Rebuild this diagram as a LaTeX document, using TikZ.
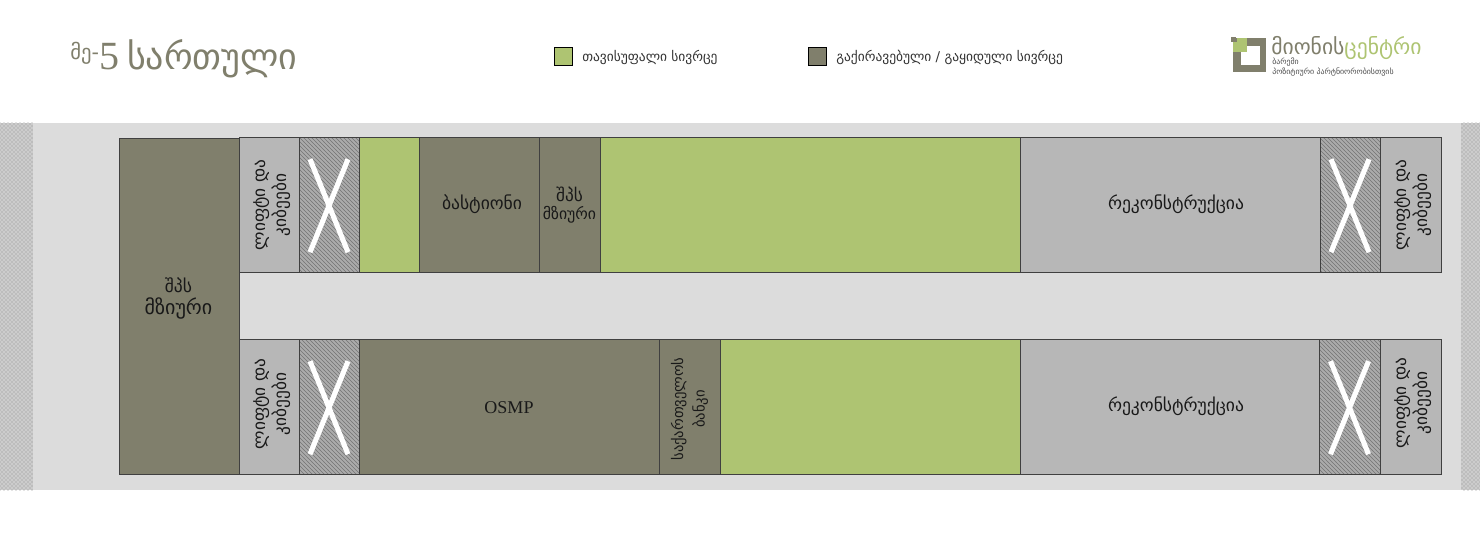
\documentclass[tikz,border=0pt]{standalone}
\usepackage{fontspec}
\setmainfont{DejaVu Sans}
\newfontfamily\latinfont{Liberation Serif}
\usepackage{xcolor}
\usepackage{tikz}
\usetikzlibrary{calc}
\usetikzlibrary{patterns}
\definecolor{olivebox}{HTML}{807F6C}
\definecolor{greenbox}{HTML}{AEC472}
\definecolor{graybox}{HTML}{B7B7B7}
\definecolor{hatchbox}{HTML}{ABABAB}
\definecolor{bandgray}{HTML}{DCDCDC}
\definecolor{edgegray}{HTML}{404040}
\tikzset{x=0.75pt, y=-0.75pt}
\tikzstyle{cell} = [draw=edgegray, line width=0.75pt, inner sep=0, align=center, font=\fontsize{13}{16}\selectfont, text=black!90]
\tikzstyle{rented} = [cell, fill=olivebox]
\tikzstyle{free} = [cell, fill=greenbox]
\tikzstyle{rebuilt} = [cell, fill=graybox]
\tikzstyle{blocked} = [cell, preaction={fill=hatchbox}, pattern=north west lines, pattern color=black!55]
\tikzstyle{celltext} = [inner sep=0, align=center, font=\fontsize{13.2}{16}\selectfont, text=black!90]
\tikzstyle{sidetext} = [celltext, rotate=90, font=\fontsize{13}{16}\selectfont]
\tikzstyle{cross} = [draw=white, line width=3.8pt]
\tikzstyle{legendbox} = [draw=black, line width=0.75pt, minimum width=14pt, minimum height=14pt, inner sep=0]
\tikzstyle{legendtext} = [anchor=west, inner sep=0, font=\fontsize{10.1}{12}\selectfont, text=black!80]
\newcommand{\xmark}[1]{
\draw [cross] ($(#1.center)+(-19,-46)$) to ($(#1.center)+(19,47)$);
\draw [cross] ($(#1.center)+(19,-46)$) to ($(#1.center)+(-19,47)$);
}
\begin{document}
\begin{tikzpicture}
\useasboundingbox (0,0) rectangle (1480,534);
\fill [white] (0,0) rectangle (1480,534);
% band and side strips
\fill [bandgray] (0,123) rectangle (1480,490);
\fill [black!20] (0,123) rectangle (33,490);
\fill [black!20] (1461,123) rectangle (1480,490);
\fill [pattern=crosshatch dots, pattern color=black!45] (0,123) rectangle (33,490);
\fill [pattern=crosshatch dots, pattern color=black!45] (1461,123) rectangle (1480,490);
% title and legend
\node [anchor=base west, inner sep=0, text=olivebox, font=\fontsize{27}{30}\selectfont] (title) at (70,70) {{\fontsize{15.5}{18}\selectfont\raisebox{8pt}{მე-}}{\latinfont\fontsize{30}{30}\selectfont 5}\hspace{6pt}სართული};
\node [legendbox, fill=greenbox] (freekey) at (563.5,56.5) {};
\node [legendtext] (freetext) at (582,57) {თავისუფალი სივრცე};
\node [legendbox, fill=olivebox] (rentkey) at (817.5,56.5) {};
\node [legendtext] (renttext) at (836,57) {გაქირავებული / გაყიდული სივრცე};
% logo
\fill [olivebox] (1233,38) rectangle (1266,72);
\fill [white] (1241,46) rectangle (1260,65);
\fill [greenbox] (1233,42) rectangle (1247,52);
\fill [greenbox] (1237,38) rectangle (1247,42);
\fill [olivebox] (1231,37) rectangle (1236,42);
\node [anchor=west, inner sep=0, text=olivebox, font=\fontsize{16.2}{18}\selectfont] (logo) at (1271,48) {მიონის{\color{greenbox}ცენტრი}};
\node [anchor=north west, inner sep=0, text=black!70, align=left, font=\fontsize{5.9}{5.8}\selectfont] (logosub) at (1272,58) {ბარემი\\პოზიტიური პარტნიორობისთვის};
% left block
\node [rented, minimum width=90pt, minimum height=252pt] (mzeuri) at (179,306.7) {};
\node [celltext] (mzeuritext) at (178.5,298.5) {შპს\\{\fontsize{15}{16}\selectfont მზიური}};
% top row
\node [rebuilt, minimum width=45pt, minimum height=101.25pt] (lift1) at (269,205.2) {};
\node [sidetext] (lifttext1) at (272,205) {ლიფტი და\\კიბეები};
\node [blocked, minimum width=45pt, minimum height=101.25pt] (block1) at (329,205.2) {};
\node [free, minimum width=45pt, minimum height=101.25pt] (free1) at (389,205.2) {};
\node [rented, minimum width=90pt, minimum height=101.25pt] (bastion) at (479,205.2) {};
\node [celltext] (bastiontext) at (482,204.5) {ბასტიონი};
\node [rented, minimum width=45.75pt, minimum height=101.25pt] (mzeuri2) at (569.5,205.2) {შპს\\[-3pt]{\fontsize{11.8}{14}\selectfont მზიური}};
\node [free, minimum width=315pt, minimum height=101.25pt] (free2) at (810,205.2) {};
\node [rebuilt, minimum width=225pt, minimum height=101.25pt] (recon1) at (1170,205.2) {};
\node [celltext] (recontext1) at (1176,204.5) {რეკონსტრუქცია};
\node [blocked, minimum width=45pt, minimum height=101.25pt] (block2) at (1350,205.2) {};
\node [rebuilt, minimum width=45.75pt, minimum height=101.25pt] (lift2) at (1410.5,205.2) {};
\node [sidetext] (lifttext2) at (1413,205) {ლიფტი და\\კიბეები};
% bottom row
\node [rebuilt, minimum width=45pt, minimum height=101.25pt] (lift3) at (269,407.2) {};
\node [sidetext] (lifttext3) at (272,404) {ლიფტი და\\კიბეები};
\node [blocked, minimum width=45pt, minimum height=101.25pt] (block3) at (329,407.2) {};
\node [rented, minimum width=225pt, minimum height=101.25pt, font=\latinfont\fontsize{13.5}{15}\selectfont] (osmp) at (509,407.2) {OSMP};
\node [rented, minimum width=45.75pt, minimum height=101.25pt] (bank) at (689.5,407.2) {};
\node [sidetext, font=\fontsize{11}{16}\selectfont] (banktext) at (689.5,409) {საქართველოს\\ბანკი};
\node [free, minimum width=225pt, minimum height=101.25pt] (free3) at (870,407.2) {};
\node [rebuilt, minimum width=224.25pt, minimum height=101.25pt] (recon2) at (1169.5,407.2) {};
\node [celltext] (recontext2) at (1176,406.5) {რეკონსტრუქცია};
\node [blocked, minimum width=45.75pt, minimum height=101.25pt] (block4) at (1349.5,407.2) {};
\node [rebuilt, minimum width=45.75pt, minimum height=101.25pt] (lift4) at (1410.5,407.2) {};
\node [sidetext] (lifttext4) at (1413,403) {ლიფტი და\\კიბეები};
% crosses
\xmark{block1}
\xmark{block2}
\xmark{block3}
\xmark{block4}
\end{tikzpicture}
\end{document}
